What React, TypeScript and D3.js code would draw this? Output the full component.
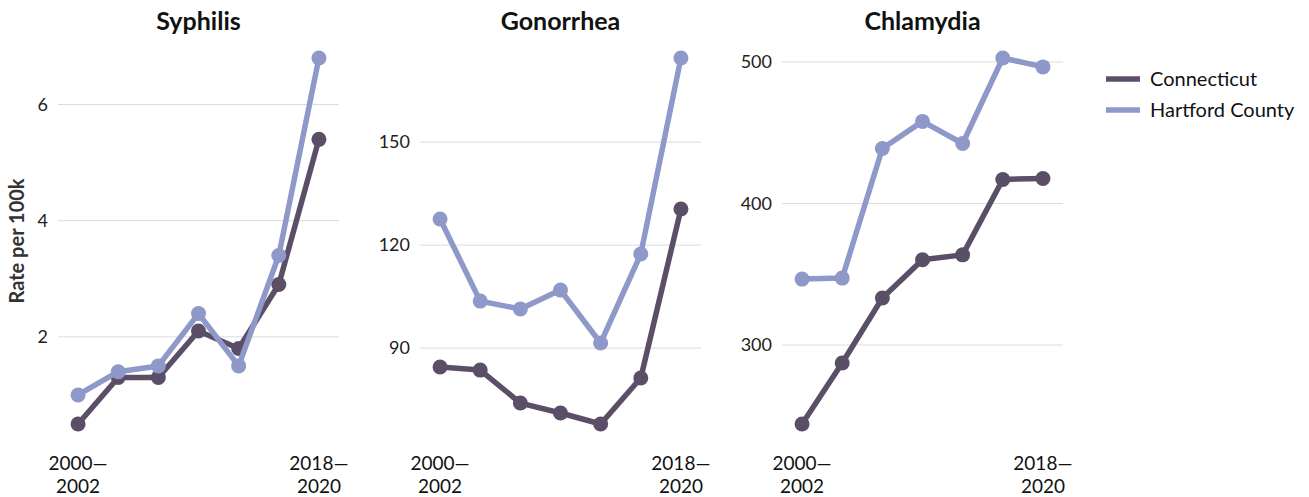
import React from "react";
import * as d3 from "d3";

const periods = ["2000—2002", "2003—2005", "2006—2008", "2009—2011", "2012—2014", "2015—2017", "2018—2020"];
const seriesNames = ["Connecticut", "Hartford County"];
const diseases = ["Syphilis", "Gonorrhea", "Chlamydia"];

const syphilisCT = [0.5, 1.3, 1.3, 2.1, 1.8, 2.9, 5.4];
const syphilisHC = [1.0, 1.4, 1.5, 2.4, 1.5, 3.4, 6.8];
const gonorrheaCT = [84.5, 83.6, 74.0, 71.1, 67.9, 81.3, 130.5];
const gonorrheaHC = [127.6, 103.7, 101.4, 106.9, 91.5, 117.4, 174.5];
const chlamydiaCT = [244.2, 287.3, 333.2, 360.3, 363.7, 417.0, 417.7];
const chlamydiaHC = [346.6, 347.3, 438.9, 458.0, 442.4, 502.8, 496.5];

const yTicks = [
  [2, 4, 6],
  [90, 120, 150],
  [300, 400, 500],
];

const panelData = [
  [syphilisCT, syphilisHC],
  [gonorrheaCT, gonorrheaHC],
  [chlamydiaCT, chlamydiaHC],
];

const colors = ["#5b4f68", "#8e98c9"];
const FONT = "Lato, 'Source Sans Pro', sans-serif";

export default function App() {
  const W = 1309;
  const H = 497;
  const panelLeft = [58, 420, 782];
  const panelW = 281;
  const top = 58;
  const bottom = 424;

  return (
    <svg
      width={W}
      height={H}
      style={{ position: "absolute", left: 0, top: 0, fontFamily: FONT }}
    >
      <text
        transform={`translate(24,${(top + bottom) / 2}) rotate(-90)`}
        textAnchor="middle"
        fontSize={20}
        fontWeight="bold"
        fill="#333"
      >
        Rate per 100k
      </text>
      {diseases.map((name, pi) => {
        const x0 = panelLeft[pi];
        const [ct, hc] = panelData[pi];
        const all = [...ct, ...hc];
        const y = d3
          .scaleLinear()
          .domain([d3.min(all) as number, d3.max(all) as number])
          .range([bottom, top]);
        const x = d3
          .scalePoint<string>()
          .domain(periods)
          .range([x0, x0 + panelW])
          .padding(0.5);
        const line = d3
          .line<number>()
          .x((_, i) => x(periods[i]) as number)
          .y((d) => y(d));
        const firstP = periods[0];
        const lastP = periods[periods.length - 1];
        return (
          <g key={name}>
            <text
              x={x0 + panelW / 2}
              y={30}
              textAnchor="middle"
              fontSize={25}
              fontWeight="bold"
              fill="#111"
            >
              {name}
            </text>
            {yTicks[pi].map((t) => (
              <g key={t}>
                <line
                  x1={x0}
                  x2={x0 + panelW}
                  y1={y(t)}
                  y2={y(t)}
                  stroke="#dcdcdc"
                  strokeWidth={1}
                />
                <text
                  x={x0 - 10}
                  y={y(t)}
                  dy="0.35em"
                  textAnchor="end"
                  fontSize={18}
                  fill="#222"
                >
                  {t}
                </text>
              </g>
            ))}
            {[firstP, lastP].map((p) => {
              const [a, b] = p.split("—");
              return (
                <text
                  key={p}
                  x={x(p) as number}
                  textAnchor="middle"
                  fontSize={19}
                  fill="#111"
                >
                  <tspan x={x(p) as number} y={470}>
                    {a + "—"}
                  </tspan>
                  <tspan x={x(p) as number} y={493}>
                    {b}
                  </tspan>
                </text>
              );
            })}
            {[ct, hc].map((vals, si) => (
              <g key={si}>
                <path
                  d={line(vals) || ""}
                  fill="none"
                  stroke={colors[si]}
                  strokeWidth={5.5}
                  strokeLinejoin="round"
                />
                {vals.map((v, i) => (
                  <circle
                    key={i}
                    cx={x(periods[i]) as number}
                    cy={y(v)}
                    r={7.5}
                    fill={colors[si]}
                  />
                ))}
              </g>
            ))}
          </g>
        );
      })}
      {seriesNames.map((s, i) => (
        <g key={s} transform={`translate(1106,${79 + i * 31})`}>
          <line x1={0} x2={34} y1={0} y2={0} stroke={colors[i]} strokeWidth={5.5} />
          <text x={44} y={0} dy="0.35em" fontSize={20} fill="#111">
            {s}
          </text>
        </g>
      ))}
    </svg>
  );
}
